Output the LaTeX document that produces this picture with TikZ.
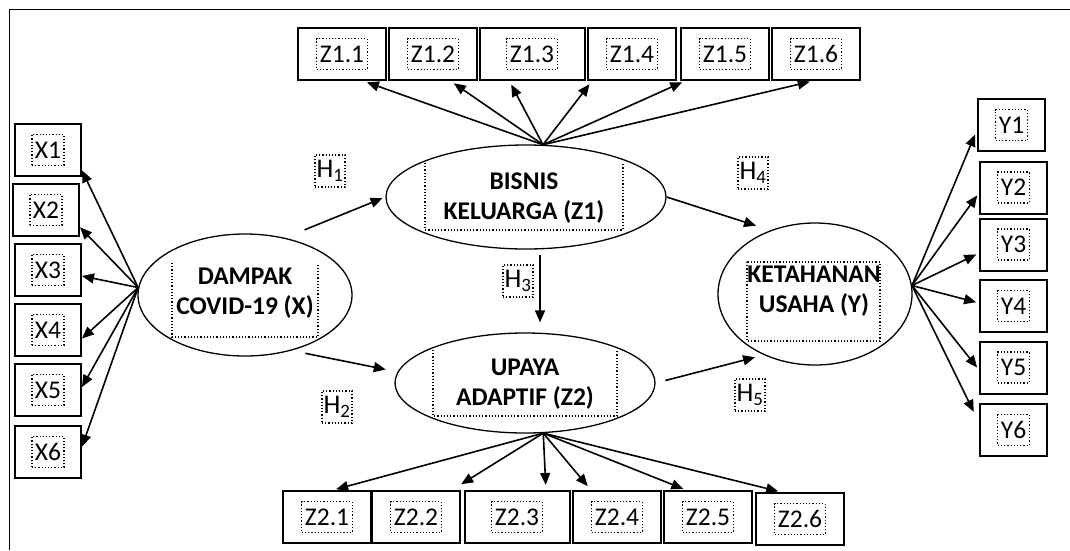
\documentclass[tikz,border=0pt]{standalone}
\usepackage{fontspec}
\setmainfont{Carlito}
\usepackage{tikz}
\usetikzlibrary{arrows.meta,shapes.geometric}

\begin{document}
\begin{tikzpicture}[x=1pt,y=-1pt,
    latent/.style={draw, ellipse, line width=1.3pt, inner sep=0pt},
    indik/.style={draw, line width=2pt, minimum width=88pt, minimum height=52pt, inner sep=0pt},
    tbox/.style={draw, dotted, line width=1.2pt, inner xsep=3pt, inner ysep=2pt, minimum height=31pt, font=\fontsize{25.5}{28}\selectfont},
    hbox/.style={draw, dotted, line width=1.2pt, inner xsep=1.5pt, inner ysep=2pt, minimum height=32pt, font=\fontsize{27}{30}\selectfont},
    ltext/.style={align=center, inner sep=0pt, font=\bfseries\fontsize{25.5}{30}\selectfont},
    arr/.style={-{Triangle[length=12pt,width=10pt]}, line width=1.6pt},
]
    \useasboundingbox (0,0) rectangle (1070,550);

    % frame
    \draw[line width=1.5pt] (1070,9.5) -- (9.5,9.5) -- (9.5,550);

    % latent variables
    \node[latent, minimum width=214pt, minimum height=122pt] (X) at (245,295) {};
    \node[latent, minimum width=280pt, minimum height=104pt] (B) at (526,197) {};
    \node[latent, minimum width=260pt, minimum height=100pt] (U) at (525,383) {};
    \node[latent, minimum width=194pt, minimum height=142pt] (K) at (815,294) {};

    % text boxes in the ellipses
    \draw[dotted, line width=1.2pt] (172,263) -- (172,337) -- (318,337) -- (318,263);
    \draw[dotted, line width=1.2pt] (425,163) -- (425,230) -- (623,230) -- (623,163);
    \draw[dotted, line width=1.2pt] (433,350) -- (433,416) -- (617,416) -- (617,350);
    \draw[dotted, line width=1.2pt] (747,262) rectangle (880,341);
    \node[ltext] (Xt) at (245,293) {DAMPAK\\COVID-19 (X)};
    \node[ltext] (Bt) at (524,198) {BISNIS\\KELUARGA (Z1)};
    \node[ltext] (Ut) at (525,384) {UPAYA\\ADAPTIF (Z2)};
    \node[ltext] (Kt) at (814,291) {KETAHANAN\\USAHA (Y)};

    % indicators X
    \node[indik, minimum width=66pt, label={[tbox]center:X1}] (x1) at (48,150) {};
    \node[indik, minimum width=66pt, label={[tbox]center:X2}] (x2) at (46,210) {};
    \node[indik, minimum width=66pt, label={[tbox]center:X3}] (x3) at (48,270) {};
    \node[indik, minimum width=66pt, label={[tbox]center:X4}] (x4) at (48,330) {};
    \node[indik, minimum width=66pt, label={[tbox]center:X5}] (x5) at (48,390) {};
    \node[indik, minimum width=66pt, label={[tbox]center:X6}] (x6) at (48,452) {};

    % indicators Z1
    \node[indik, label={[tbox]center:Z1.1}] (z11) at (342,54) {};
    \node[indik, label={[tbox]center:Z1.2}] (z12) at (433,54) {};
    \node[indik, minimum width=105pt, label={[tbox]center:Z1.3}] (z13) at (532,54) {};
    \node[indik, label={[tbox]center:Z1.4}] (z14) at (632,54) {};
    \node[indik, label={[tbox]center:Z1.5}] (z15) at (725,54) {};
    \node[indik, label={[tbox]center:Z1.6}] (z16) at (816,54) {};

    % indicators Z2
    \node[indik, label={[tbox]center:Z2.1}] (z21) at (327,517) {};
    \node[indik, label={[tbox]center:Z2.2}] (z22) at (416,517) {};
    \node[indik, minimum width=105pt, label={[tbox]center:Z2.3}] (z23) at (517,517) {};
    \node[indik, label={[tbox]center:Z2.4}] (z24) at (617,517) {};
    \node[indik, label={[tbox]center:Z2.5}] (z25) at (708,517) {};
    \node[indik, label={[tbox]center:Z2.6}] (z26) at (800,519) {};

    % indicators Y
    \node[indik, minimum width=67pt, label={[tbox]center:Y1}] (y1) at (1011.5,125) {};
    \node[indik, minimum width=67pt, label={[tbox]center:Y2}] (y2) at (1013.5,187.5) {};
    \node[indik, minimum width=67pt, label={[tbox]center:Y3}] (y3) at (1013.5,244.5) {};
    \node[indik, minimum width=67pt, label={[tbox]center:Y4}] (y4) at (1013.5,306) {};
    \node[indik, minimum width=67pt, label={[tbox]center:Y5}] (y5) at (1013.5,367.5) {};
    \node[indik, minimum width=67pt, label={[tbox]center:Y6}] (y6) at (1013.5,430) {};

    % loadings X
    \draw[arr] (X.176) -- (x1.-31);
    \draw[arr] (X.176) -- (x2.-27);
    \draw[arr] (X.176) -- (x3.-10);
    \draw[arr] (X.176) -- (x4.-14);
    \draw[arr] (X.176) -- (x5.5);
    \draw[arr] (X.176) -- (x6.9);

    % loadings Z1
    \draw[arr, shorten >=4pt] (B.72) -- (z11.-52);
    \draw[arr, shorten >=4pt] (B.72) -- (z12.-57);
    \draw[arr, shorten >=4pt] (B.72) -- (z13.-130);
    \draw[arr, shorten >=4pt] (B.72) -- (z14.-146);
    \draw[arr, shorten >=3pt] (B.72) -- (z15.-146);
    \draw[arr, shorten >=3pt] (B.72) -- (z16.-97);

    % loadings Z2
    \draw[arr, shorten >=3pt] (U.-70) -- (z21.77);
    \draw[arr, shorten >=11pt] (U.-70) -- (z22.37);
    \draw[arr, shorten >=5pt] (U.-70) -- (z23.43);
    \draw[arr, shorten >=5pt] (U.-70) -- (z24.134);
    \draw[arr, shorten >=3pt] (U.-70) -- (z25.129);
    \draw[arr, shorten >=3pt] (U.-70) -- (z26.125);

    % loadings Y
    \draw[arr, shorten >=5pt] (K.5) -- (y1.188);
    \draw[arr, shorten >=3pt] (K.5) -- (y2.189);
    \draw[arr, shorten >=3pt] (K.5) -- (y3.194);
    \draw[arr, shorten >=3pt] (K.5) -- (y4.175);
    \draw[arr, shorten >=3pt] (K.5) -- (y5.184);
    \draw[arr, shorten >=12pt] (K.5) -- (y6.168);

    % hypotheses
    \draw[arr, shorten <=21pt, shorten >=3pt] (X.55) -- (B.west);
    \draw[arr, shorten <=14pt, shorten >=12pt] (X.-50) -- (U.175);
    \draw[arr, shorten <=6pt, shorten >=10pt] (B.-75) -- (B.-75 |- U.north);
    \draw[arr, shorten >=15pt] (B.east) -- (K.125);
    \draw[arr, shorten <=10pt, shorten >=9pt] (U.east) -- (K.-130);

    \node[hbox] (h1) at (330,171) {H\textsubscript{1}};
    \node[hbox] (h2) at (337,407) {H\textsubscript{2}};
    \node[hbox] (h3) at (518,281) {H\textsubscript{3}};
    \node[hbox] (h4) at (753,173) {H\textsubscript{4}};
    \node[hbox] (h5) at (750,395) {H\textsubscript{5}};

\end{tikzpicture}
\end{document}
